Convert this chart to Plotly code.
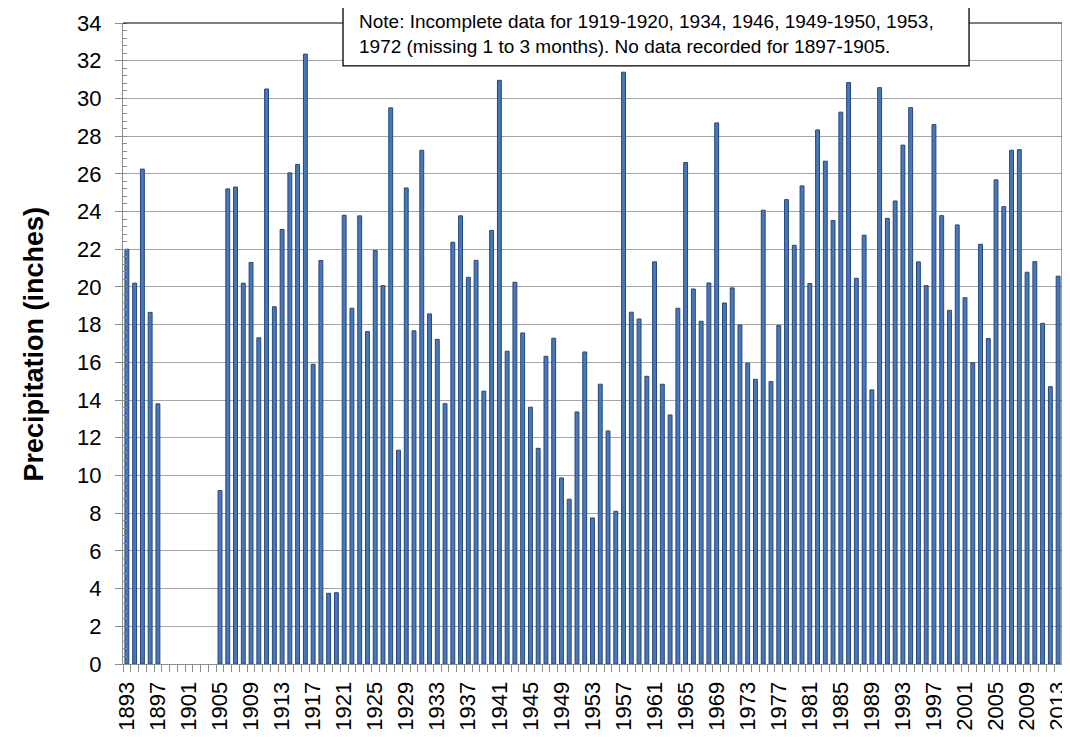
import plotly.graph_objects as go

years = list(range(1893, 2014))
precip = [
    22.0, 20.2, 26.25, 18.65, 13.8,                      # 1893-1897
    None, None, None, None, None, None, None,            # 1898-1904
    9.2, 25.2, 25.3, 20.2, 21.3, 17.3, 30.5, 18.95, 23.05, 26.05,   # 1905-1914
    26.5, 32.35, 15.9, 21.4, 3.75, 3.78, 23.8, 18.87, 23.77, 17.63,  # 1915-1924
    21.93, 20.07, 29.5, 11.34, 25.25, 17.67, 27.25, 18.57, 17.22, 13.81,  # 1925-1934
    22.37, 23.77, 20.51, 21.41, 14.47, 23.0, 30.96, 16.59, 20.25, 17.56,  # 1935-1944
    13.62, 11.44, 16.32, 17.28, 9.87, 8.74, 13.37, 16.55, 7.75, 14.84,    # 1945-1954
    12.36, 8.1, 31.39, 18.66, 18.3, 15.26, 21.33, 14.84, 13.21, 18.87,    # 1955-1964
    26.6, 19.89, 18.18, 20.21, 28.7, 19.15, 19.95, 17.98, 15.95, 15.1,    # 1965-1974
    24.07, 14.98, 17.95, 24.63, 22.21, 25.36, 20.18, 28.33, 26.67, 23.52, # 1975-1984
    29.27, 30.84, 20.46, 22.74, 14.54, 30.57, 23.64, 24.56, 27.52, 29.51, # 1985-1994
    21.33, 20.07, 28.61, 23.78, 18.76, 23.29, 19.43, 15.98, 22.26, 17.26, # 1995-2004
    25.68, 24.26, 27.25, 27.28, 20.78, 21.34, 18.07, 14.71, 20.57,        # 2005-2013
]
tick_years = [1893, 1897, 1901, 1905, 1909, 1913, 1917, 1921, 1925, 1929, 1933,
              1937, 1941, 1945, 1949, 1953, 1957, 1961, 1965, 1969, 1973, 1977,
              1981, 1985, 1989, 1993, 1997, 2001, 2005, 2009, 2013]
tick_labels = [str(y) for y in tick_years]
y_ticks = list(range(0, 35, 2))

note_text = ("Note: Incomplete data for 1919-1920, 1934, 1946, 1949-1950, 1953,<br>"
             "1972 (missing 1 to 3 months). No data recorded for 1897-1905.")
y_title = "Precipitation (inches)"

FONT = "Liberation Sans, Arial, sans-serif"

fig = go.Figure()
fig.add_trace(go.Bar(
    x=years, y=precip,
    marker=dict(color="#4878B8", line=dict(color="#24467A", width=1)),
    width=0.5,
    showlegend=False,
))

# page body has an 8px default margin, so the figure is sized/offset to fit
fig.update_layout(
    width=1062, height=729,
    margin=dict(l=115, r=8, t=15, b=73, autoexpand=False),
    paper_bgcolor="white", plot_bgcolor="white",
    font=dict(family=FONT, color="black"),
    bargap=0.5,
)

fig.update_xaxes(
    range=[1892.5, 2013.5], automargin=False,
    tickmode="array", tickvals=tick_years, ticktext=tick_labels,
    tickangle=-90, tickfont=dict(size=22, family=FONT, color="black"),
    ticks="", ticklabelstandoff=8, ticklabeloverflow="allow",
    showline=True, linecolor="#8C8C8C", linewidth=1,
    showgrid=False, zeroline=False,
    minor=dict(tick0=1892.5, dtick=1, ticks="outside", ticklen=7,
               tickcolor="#8C8C8C", tickwidth=1, showgrid=False),
)

fig.update_yaxes(
    range=[0, 34], automargin=False,
    tickmode="array", tickvals=y_ticks, ticktext=[str(v) for v in y_ticks],
    tickfont=dict(size=22, family=FONT, color="black"),
    ticks="outside", ticklen=7, tickcolor="#8C8C8C", tickwidth=1,
    ticklabelstandoff=9, ticklabeloverflow="allow",
    showline=True, linecolor="#8C8C8C", linewidth=1,
    showgrid=True, gridcolor="#A6A6A6", gridwidth=1,
    zeroline=False,
    minor=dict(tick0=0, dtick=0.4, ticks="inside", ticklen=4,
               tickcolor="#8C8C8C", tickwidth=1, showgrid=False),
)

# plot-area border (top and right)
fig.add_shape(type="line", xref="paper", yref="paper", x0=0, x1=1, y0=1, y1=1,
              line=dict(color="black", width=1), layer="above")
fig.add_shape(type="line", xref="paper", yref="paper", x0=1, x1=1, y0=0, y1=1,
              line=dict(color="#404040", width=1), layer="above")

# note box
fig.add_shape(type="rect", xref="paper", yref="paper",
              x0=0.2343, x1=0.901, y0=0.933, y1=1.029,
              fillcolor="white", line=dict(color="black", width=1.3), layer="above")
fig.add_annotation(xref="paper", yref="paper", x=0.2492, y=0.9836,
                   xanchor="left", yanchor="middle", align="left", showarrow=False,
                   text=note_text, font=dict(size=19, family=FONT, color="black"))

# y-axis title
fig.add_annotation(xref="paper", yref="paper", x=-0.0948, y=0.5,
                   xanchor="center", yanchor="middle", textangle=-90, showarrow=False,
                   text="<b>" + y_title + "</b>",
                   font=dict(size=27, family=FONT, color="black"))

fig.write_html("out.html")
